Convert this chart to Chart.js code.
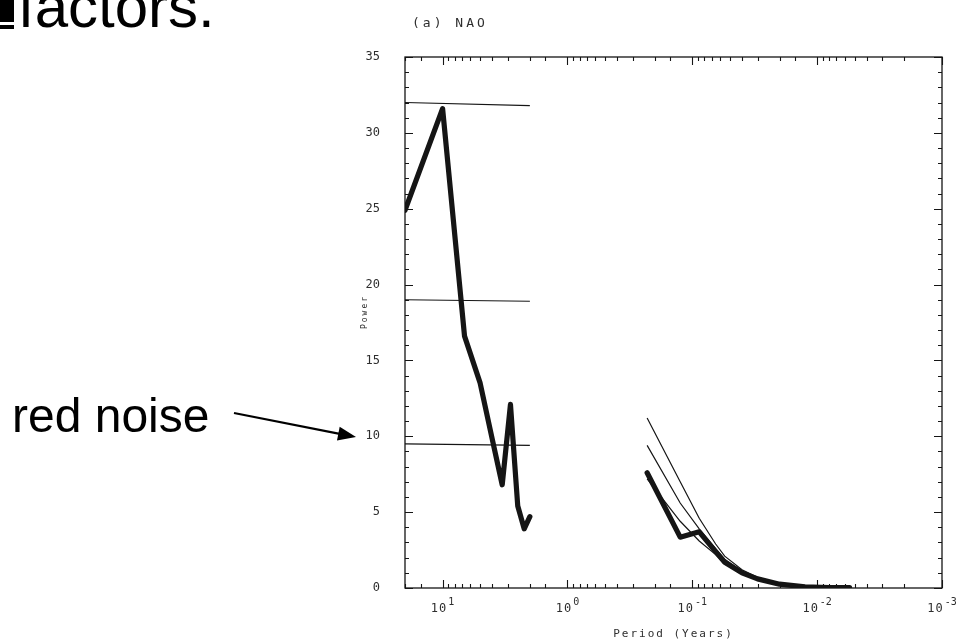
<!DOCTYPE html>
<html>
<head>
<meta charset="utf-8">
<title>NAO power spectrum</title>
<script src="https://cdn.jsdelivr.net/npm/chart.js@4"></script>
<style>
  html, body { margin: 0; padding: 0; background: #fff; }
  #wrap { width: 961px; height: 643px; }
</style>
</head>
<body>
<div id="wrap"><canvas id="spectrum" width="961" height="643"></canvas></div>
<script>
let ctx = document.getElementById('spectrum')

// annual record: periods in years and spectral power
const periodsAnnual = [20, 10, 6.67, 5, 4, 3.33, 2.86, 2.5, 2.22, 2.0]
const powerAnnual = [24.9, 31.6, 16.6, 13.5, 9.8, 6.8, 12.1, 5.4, 3.9, 4.7]

// red noise levels for the annual record (flat, drawn end to end)
const rnPeriodsAnnual = [20, 2.0]
const rnAnnualHigh = [32.0, 31.8]
const rnAnnualMid = [19.0, 18.9]
const rnAnnualLow = [9.5, 9.4]

// daily record
const periodsDaily = [0.23, 0.125, 0.088, 0.065, 0.055, 0.04, 0.03, 0.02, 0.0125, 0.008, 0.0055]
const powerDaily = [7.6, 3.35, 3.7, 2.4, 1.7, 1.0, 0.6, 0.25, 0.08, 0.03, 0.02]
const rnDailyHigh = [11.2, 7.0, 4.6, 2.9, 2.1, 1.2, 0.7, 0.3, 0.1, 0.04, 0.02]
const rnDailyMid = [9.4, 5.6, 3.9, 2.6, 1.9, 1.1, 0.65, 0.28, 0.09, 0.03, 0.02]
const rnDailyLow = [7.2, 4.4, 3.1, 2.2, 1.6, 0.95, 0.55, 0.24, 0.08, 0.03, 0.02]

// x tick labels: decade exponents, drawn as 10 with a raised exponent
const xTickExponents = ['1', '0', '-1', '-2', '-3']
const yTickLabels = [0, 5, 10, 15, 20, 25, 30, 35]

const ink = '#151515'
const labelInk = '#2e2e2e'
const monoFont = '"DejaVu Sans Mono"'

function pairs(xs, ys) {
    return xs.map((x, i) => ({ x: x, y: ys[i] }))
}

function thin(xs, ys) {
    return { data: pairs(xs, ys), borderColor: ink, borderWidth: 1.2, pointRadius: 0, tension: 0 }
}

function thick(xs, ys) {
    return { data: pairs(xs, ys), borderColor: ink, borderWidth: 5.2, pointRadius: 0, tension: 0,
             borderJoinStyle: 'round', borderCapStyle: 'round' }
}

const data = {
    datasets: [
        thin(rnPeriodsAnnual, rnAnnualHigh),
        thin(rnPeriodsAnnual, rnAnnualMid),
        thin(rnPeriodsAnnual, rnAnnualLow),
        thin(periodsDaily, rnDailyHigh),
        thin(periodsDaily, rnDailyMid),
        thin(periodsDaily, rnDailyLow),
        thick(periodsAnnual, powerAnnual),
        thick(periodsDaily, powerDaily),
    ]
}

function isDecade(v) {
    const l = Math.log10(v)
    return Math.abs(l - Math.round(l)) < 1e-6
}

// frame with inward ticks on all four sides, plus the loose text around the plot
const frame = {
    id: 'frame',
    beforeDatasetsDraw(chart) {
        const c = chart.ctx
        const a = chart.chartArea
        const xs = chart.scales.x
        const ys = chart.scales.y
        c.save()
        c.strokeStyle = ink
        c.lineWidth = 1.3
        c.strokeRect(a.left, a.top, a.right - a.left, a.bottom - a.top)
        c.lineWidth = 1.1
        c.beginPath()
        xs.ticks.forEach(t => {
            if (t.value < xs.min || t.value > xs.max) return
            const px = Math.round(xs.getPixelForValue(t.value)) + 0.5
            const len = isDecade(t.value) ? 8 : 4
            c.moveTo(px, a.bottom); c.lineTo(px, a.bottom - len)
            c.moveTo(px, a.top); c.lineTo(px, a.top + len)
        })
        ys.ticks.forEach(t => {
            const py = Math.round(ys.getPixelForValue(t.value)) + 0.5
            const len = t.value % 5 === 0 ? 8 : 4
            c.moveTo(a.left, py); c.lineTo(a.left + len, py)
            c.moveTo(a.right, py); c.lineTo(a.right - len, py)
        })
        c.stroke()

        // decade labels under the x axis
        c.fillStyle = labelInk
        c.textBaseline = 'alphabetic'
        xTickExponents.forEach(e => {
            const px = xs.getPixelForValue(Math.pow(10, Number(e)))
            c.font = '12px ' + monoFont
            c.letterSpacing = '1px'
            const wBase = c.measureText('10').width
            c.font = '10px ' + monoFont
            c.letterSpacing = '0px'
            const wExp = c.measureText(e).width
            const left = px - (wBase + wExp + 1) / 2
            c.font = '12px ' + monoFont
            c.letterSpacing = '1px'
            c.fillText('10', left, a.bottom + 24)
            c.font = '10px ' + monoFont
            c.letterSpacing = '0px'
            c.fillText(e, left + wBase + 1, a.bottom + 17)
        })
        c.restore()
    },
    afterDraw(chart) {
        const c = chart.ctx
        const a = chart.chartArea
        c.save()
        c.fillStyle = labelInk
        c.font = '13px ' + monoFont
        c.letterSpacing = '3px'
        c.textBaseline = 'alphabetic'
        c.fillText('(a) NAO', 412, 27)
        c.letterSpacing = '2px'
        c.font = '11px ' + monoFont
        c.textAlign = 'center'
        c.fillText('Period (Years)', (a.left + a.right) / 2, 637)
        c.translate(367, 312)
        c.rotate(-Math.PI / 2)
        c.font = '8px ' + monoFont
        c.fillText('Power', 0, 0)
        c.restore()

        c.save()
        c.fillStyle = '#000'
        c.font = '60px "Liberation Sans"'
        c.fillText('factors.', 18, 27)
        c.fillRect(0, 0, 14, 22)
        c.fillRect(0, 25, 14, 4)
        c.font = '48px "Liberation Sans"'
        c.fillText('red noise', 12, 432)
        // arrow pointing at the lowest red noise level
        const x0 = 234, y0 = 413, x1 = 356, y1 = 437
        const ang = Math.atan2(y1 - y0, x1 - x0)
        c.strokeStyle = '#000'
        c.lineWidth = 2.2
        c.beginPath()
        c.moveTo(x0, y0)
        c.lineTo(x1 - 14 * Math.cos(ang), y1 - 14 * Math.sin(ang))
        c.stroke()
        c.beginPath()
        c.moveTo(x1, y1)
        c.lineTo(x1 - 18 * Math.cos(ang) + 7 * Math.sin(ang), y1 - 18 * Math.sin(ang) - 7 * Math.cos(ang))
        c.lineTo(x1 - 18 * Math.cos(ang) - 7 * Math.sin(ang), y1 - 18 * Math.sin(ang) + 7 * Math.cos(ang))
        c.closePath()
        c.fill()
        c.restore()
    }
}

const config = {
    type: 'line',
    data,
    options: {
        responsive: false,
        animation: false,
        events: [],
        layout: { padding: { left: 0, top: 57, right: 19, bottom: 0 } },
        plugins: { legend: { display: false }, tooltip: { enabled: false } },
        scales: {
            x: {
                type: 'logarithmic',
                reverse: true,
                min: 0.001,
                max: 20,
                grid: { display: false },
                border: { display: false },
                afterFit: s => { s.height = 55 },
                ticks: {
                    autoSkip: false,
                    maxRotation: 0,
                    callback: () => ''
                }
            },
            y: {
                min: 0,
                max: 35,
                grid: { display: false },
                border: { display: false },
                afterFit: s => { s.width = 405 },
                ticks: {
                    stepSize: 1,
                    autoSkip: false,
                    padding: 17,
                    color: labelInk,
                    font: { family: 'DejaVu Sans Mono', size: 12 },
                    callback: v => yTickLabels.includes(v) ? String(v) : ''
                }
            }
        }
    },
    plugins: [frame]
}

const graph = new Chart(ctx, config)
</script>
</body>
</html>
